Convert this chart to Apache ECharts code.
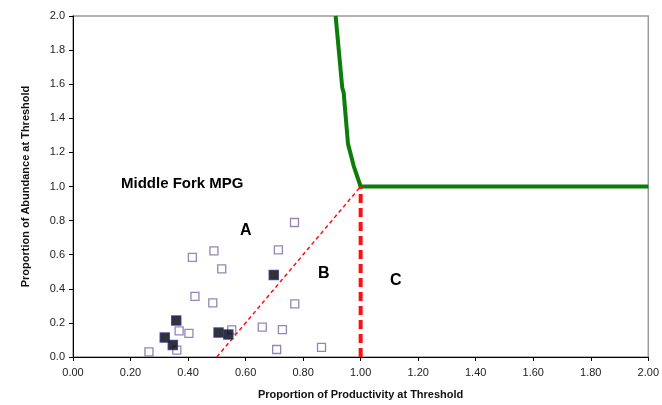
<!DOCTYPE html>
<html>
<head>
<meta charset="utf-8">
<script src="https://cdn.jsdelivr.net/npm/echarts@6/dist/echarts.min.js"></script>
<style>
html,body{margin:0;padding:0;background:#fff;}
#chart{width:662px;height:405px;}
</style>
</head>
<body>
<div id="chart"></div>
<script>
// open squares: all populations
var openPts = [
	[0.770, 0.789], [0.490, 0.622], [0.415, 0.584], [0.714, 0.628],
	[0.517, 0.517], [0.424, 0.356], [0.486, 0.317], [0.771, 0.312],
	[0.369, 0.153], [0.403, 0.139], [0.552, 0.159], [0.658, 0.175],
	[0.728, 0.161], [0.264, 0.030], [0.361, 0.040], [0.708, 0.044],
	[0.864, 0.057]
];
// filled squares
var filledPts = [
	[0.359, 0.214], [0.319, 0.114], [0.347, 0.071],
	[0.506, 0.143], [0.540, 0.132], [0.698, 0.481]
];
// green viability curve
var curvePts = [
	[0.913, 2.0], [0.936, 1.58], [0.941, 1.55], [0.956, 1.25],
	[0.976, 1.12], [1.0, 1.0], [2.0, 1.0]
];
var diagPts = [[0.5, 0], [1.0, 1.0]];
var vertPts = [[1.0, 0], [1.0, 1.0]];

var font = 'Liberation Sans, Arial, sans-serif';
var chart = echarts.init(document.getElementById('chart'));

var option = {
	animation: false,
	grid: {left: 73, right: 12, top: 16, bottom: 48, show: true,
		borderColor: '#9a9a9a', borderWidth: 1.5},
	xAxis: {
		type: 'value', min: 0, max: 2, interval: 0.2,
		name: 'Proportion of Productivity at Threshold',
		nameLocation: 'middle', nameGap: 32,
		nameTextStyle: {fontFamily: font, fontWeight: 'bold', fontSize: 11, color: '#111'},
		axisLine: {lineStyle: {color: '#000', width: 1}},
		axisTick: {show: true, inside: false, length: 4, lineStyle: {color: '#000'}},
		axisLabel: {fontFamily: font, fontSize: 11, color: '#222', margin: 10,
			formatter: function(v){ return v.toFixed(2); }},
		splitLine: {show: false}
	},
	yAxis: {
		type: 'value', min: 0, max: 2, interval: 0.2,
		name: 'Proportion of Abundance at Threshold',
		nameLocation: 'middle', nameGap: 42,
		nameTextStyle: {fontFamily: font, fontWeight: 'bold', fontSize: 11, color: '#111'},
		axisLine: {show: true, lineStyle: {color: '#000', width: 1}},
		axisTick: {show: true, inside: false, length: 4, lineStyle: {color: '#000'}},
		axisLabel: {fontFamily: font, fontSize: 11, color: '#222', margin: 8,
			formatter: function(v){ return v.toFixed(1); }},
		splitLine: {show: false}
	},
	series: [
		{
			type: 'line', data: curvePts, symbol: 'none', z: 3,
			lineStyle: {color: '#0a7d0a', width: 4}
		},
		{
			type: 'line', data: diagPts, symbol: 'none', z: 3,
			lineStyle: {color: '#ff1010', width: 1.5, type: [4, 3]}
		},
		{
			type: 'line', data: vertPts, symbol: 'none', z: 3,
			lineStyle: {color: '#ff1010', width: 4, type: [9, 5]}
		},
		{
			type: 'scatter', data: openPts, symbol: 'rect', symbolSize: 8, z: 4,
			itemStyle: {color: '#fff', borderColor: '#7a68a6', borderWidth: 1.3}
		},
		{
			type: 'scatter', data: filledPts, symbol: 'rect', symbolSize: 9, z: 5,
			itemStyle: {color: '#000', borderColor: '#2b2a78', borderWidth: 1.5}
		}
	],
	graphic: [
		{type: 'text', left: 121, top: 176,
			style: {text: 'Middle Fork MPG', font: 'bold 15px ' + font, fill: '#000'}},
		{type: 'text', left: 240, top: 223,
			style: {text: 'A', font: 'bold 16px ' + font, fill: '#000'}},
		{type: 'text', left: 318, top: 266,
			style: {text: 'B', font: 'bold 16px ' + font, fill: '#000'}},
		{type: 'text', left: 390, top: 273,
			style: {text: 'C', font: 'bold 16px ' + font, fill: '#000'}}
	]
};

chart.setOption(option);
</script>
</body>
</html>
